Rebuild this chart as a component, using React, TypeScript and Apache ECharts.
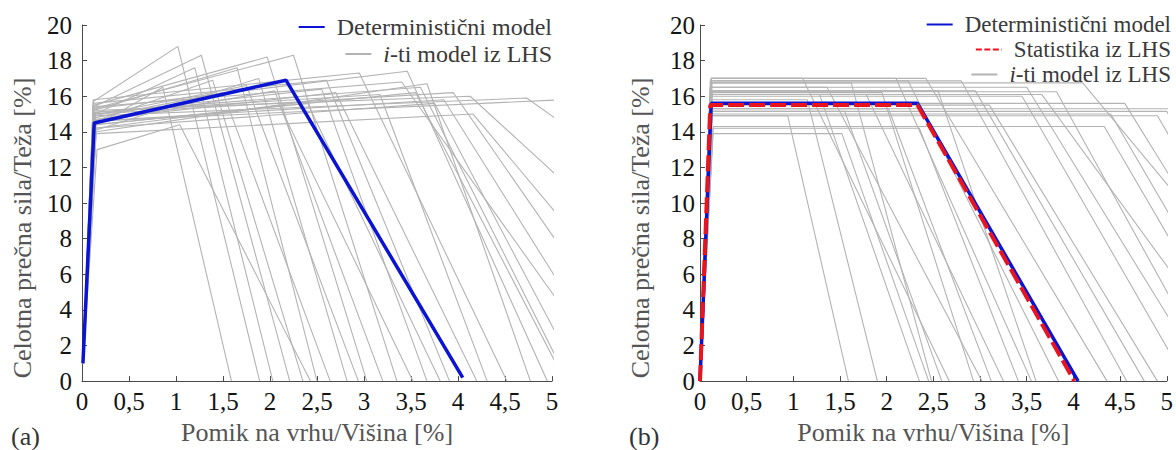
import React, { useEffect, useRef } from "react";
import * as echarts from "echarts";

// Pushover curves: displacement at top / height [%] vs. total base shear / weight [%]
const xTicks = { min: 0, max: 5, step: 0.5 };
const yTicks = { min: 0, max: 20, step: 2 };

const nameDet = "Deterministični model";
const nameStat = "Statistika iz LHS";
const nameSample = "i-ti model iz LHS";
const xTitle = "Pomik na vrhu/Višina [%]";
const yTitle = "Celotna prečna sila/Teža [%]";

// (a) deterministic trilinear curve
const detA: number[][] = [[0.01, 1.0], [0.13, 14.5], [2.17, 16.9], [4.05, 0.2]];

// (a) LHS sample curves
const samplesA: number[][][] = [
  [[0.01, 1], [0.13, 14.3], [0.86, 16.5], [1.59, 0]],
  [[0.01, 1], [0.12, 15.7], [1.02, 18.8], [1.89, 0]],
  [[0.01, 1], [0.14, 15.0], [1.2, 17.6], [2.03, 0]],
  [[0.01, 1], [0.12, 15.4], [1.27, 18.3], [2.21, 0]],
  [[0.01, 1], [0.13, 14.6], [1.39, 16.9], [2.35, 0]],
  [[0.01, 1], [0.16, 13.0], [1.04, 14.4], [2.43, 0]],
  [[0.01, 1], [0.12, 15.2], [1.65, 17.6], [2.5, 0]],
  [[0.01, 1], [0.14, 14.8], [1.5, 16.2], [2.64, 0]],
  [[0.01, 1], [0.15, 14.1], [1.88, 17.0], [2.82, 0]],
  [[0.01, 1], [0.13, 14.9], [1.75, 16.6], [2.94, 0]],
  [[0.01, 1], [0.13, 15.5], [1.97, 18.2], [3.03, 0]],
  [[0.01, 1], [0.12, 14.5], [2.05, 16.3], [3.2, 0]],
  [[0.01, 1], [0.12, 15.3], [2.25, 18.3], [3.35, 0]],
  [[0.01, 1], [0.14, 14.2], [2.1, 15.5], [3.52, 0]],
  [[0.01, 1], [0.13, 15.0], [2.55, 16.4], [3.67, 0]],
  [[0.01, 1], [0.15, 14.4], [2.4, 15.6], [3.81, 0]],
  [[0.01, 1], [0.12, 15.6], [2.6, 16.9], [3.91, 0]],
  [[0.01, 1], [0.14, 14.7], [2.7, 16.2], [4.2, 0]],
  [[0.01, 1], [0.13, 15.1], [3.17, 16.1], [4.31, 0]],
  [[0.01, 1], [0.12, 15.8], [2.95, 17.3], [4.52, 0]],
  [[0.01, 1], [0.15, 14.0], [3.67, 16.7], [4.77, 0]],
  [[0.01, 1], [0.13, 15.3], [3.46, 17.4], [4.95, 0]],
  [[0.01, 1], [0.12, 15.2], [4.13, 16.0], [7.44, 0]],
  [[0.01, 1], [0.14, 14.9], [4.73, 15.9], [9.0, 0]],
  [[0.01, 1], [0.15, 13.9], [4.16, 15.0], [6.54, 0]],
  [[0.01, 1], [0.12, 14.6], [5.3, 15.85], [7.0, 0]],
  [[0.01, 1], [0.13, 15.0], [3.95, 16.2], [6.08, 0]],
  [[0.01, 1], [0.14, 14.6], [3.85, 15.8], [5.73, 0]],
  [[0.01, 1], [0.12, 15.4], [3.4, 16.8], [5.67, 0]],
  [[0.01, 1], [0.13, 14.2], [3.75, 15.6], [5.31, 0]],
  [[0.01, 1], [0.14, 15.1], [3.6, 16.5], [5.17, 0]],
  [[0.01, 1], [0.12, 14.4], [3.55, 16.2], [5.14, 0]],
];

// (b) deterministic and LHS-statistics bilinear curves
const detB: number[][] = [[0, 0], [0.12, 15.6], [2.33, 15.6], [4.05, 0]];
const statB: number[][] = [[0, 0], [0.11, 15.5], [2.33, 15.5], [4.01, 0]];

// (b) LHS sample curves
const samplesB: number[][][] = [
  [[0, 0], [0.12, 17.0], [1.1, 17.0], [2.67, 0]],
  [[0, 0], [0.11, 16.5], [1.36, 16.5], [3.02, 0]],
  [[0, 0], [0.13, 14.9], [0.94, 14.9], [1.59, 0]],
  [[0, 0], [0.14, 13.9], [1.52, 13.9], [2.45, 0]],
  [[0, 0], [0.12, 16.1], [1.28, 16.1], [2.35, 0]],
  [[0, 0], [0.12, 15.8], [1.15, 15.8], [1.9, 0]],
  [[0, 0], [0.13, 16.1], [1.78, 16.1], [3.25, 0]],
  [[0, 0], [0.12, 17.0], [2.1, 17.0], [3.55, 0]],
  [[0, 0], [0.12, 17.0], [2.42, 17.0], [4.36, 0]],
  [[0, 0], [0.11, 16.86], [2.23, 16.86], [3.84, 0]],
  [[0, 0], [0.13, 16.3], [2.95, 16.3], [4.76, 0]],
  [[0, 0], [0.12, 16.1], [3.66, 16.1], [5.9, 0]],
  [[0, 0], [0.14, 14.3], [4.33, 14.3], [5.92, 0]],
  [[0, 0], [0.12, 14.9], [4.9, 14.9], [6.56, 0]],
  [[0, 0], [0.12, 15.3], [5.5, 15.3], [7.2, 0]],
  [[0, 0], [0.13, 15.15], [5.0, 15.15], [6.7, 0]],
  [[0, 0], [0.12, 16.25], [3.82, 16.25], [5.53, 0]],
  [[0, 0], [0.13, 15.6], [4.55, 15.6], [6.39, 0]],
  [[0, 0], [0.12, 16.75], [4.1, 16.75], [6.76, 0]],
  [[0, 0], [0.11, 16.5], [3.5, 16.5], [5.44, 0]],
  [[0, 0], [0.13, 15.0], [4.4, 15.0], [6.07, 0]],
  [[0, 0], [0.12, 16.0], [3.45, 16.0], [5.21, 0]],
  [[0, 0], [0.13, 16.75], [1.62, 16.75], [2.48, 0]],
  [[0, 0], [0.12, 15.15], [1.55, 15.15], [2.59, 0]],
  [[0, 0], [0.13, 16.2], [1.95, 16.2], [2.93, 0]],
  [[0, 0], [0.12, 15.3], [2.02, 15.3], [3.12, 0]],
  [[0, 0], [0.14, 14.2], [2.35, 14.2], [3.41, 0]],
  [[0, 0], [0.12, 16.3], [2.55, 16.3], [3.6, 0]],
  [[0, 0], [0.12, 16.86], [2.8, 16.86], [4.57, 0]],
  [[0, 0], [0.13, 15.5], [3.1, 15.5], [4.9, 0]],
];

const SERIF = "Liberation Serif";
const AXIS_COLOR = "#4a4a4a";
const GRAY = "#b3b3b3";
const BLUE = "#0a14d2";
const RED = "#e8141e";
const TITLE_COLOR = "#555555";
const LEGEND_COLOR = "#3a3a3a";

function makeXAxis(gridIndex: number) {
  return {
    type: "value",
    gridIndex,
    min: xTicks.min,
    max: xTicks.max,
    interval: xTicks.step,
    axisLine: { show: true, lineStyle: { color: AXIS_COLOR, width: 1 } },
    axisTick: { show: true, inside: true, length: 5, lineStyle: { color: AXIS_COLOR } },
    splitLine: { show: false },
    axisLabel: {
      fontFamily: SERIF,
      fontSize: 25,
      color: "#141414",
      margin: 8,
      formatter: (v: number) => String(v).replace(".", ","),
    },
    name: xTitle,
    nameLocation: "middle",
    nameGap: 33,
    nameTextStyle: { fontFamily: SERIF, fontSize: 26, color: TITLE_COLOR },
  };
}

function makeYAxis(gridIndex: number, labelMargin: number) {
  return {
    type: "value",
    gridIndex,
    min: yTicks.min,
    max: yTicks.max,
    interval: yTicks.step,
    axisLine: { show: true, lineStyle: { color: AXIS_COLOR, width: 1 } },
    axisTick: { show: true, inside: true, length: 5, lineStyle: { color: AXIS_COLOR } },
    splitLine: { show: false },
    axisLabel: { fontFamily: SERIF, fontSize: 25, color: "#141414", margin: labelMargin },
  };
}

function sampleSeries(data: number[][][], axis: number) {
  return data.map((pts) => ({
    type: "line",
    name: nameSample,
    xAxisIndex: axis,
    yAxisIndex: axis,
    data: pts,
    symbol: "none",
    showSymbol: false,
    silent: true,
    clip: true,
    z: 1,
    itemStyle: { color: GRAY },
    lineStyle: { color: GRAY, width: 1.1 },
  }));
}

function legendRow(name: string, right: number, top: number, size: number, extra: any = {}) {
  return {
    data: [name],
    right,
    top,
    orient: "horizontal",
    padding: 0,
    itemWidth: 26,
    itemHeight: 14,
    selectedMode: false,
    itemStyle: { opacity: 0 },
    formatter: (n: string) => (n === nameSample ? "{i|i}{t|-ti model iz LHS}" : n),
    textStyle: {
      fontFamily: SERIF,
      fontSize: size,
      lineHeight: size,
      color: LEGEND_COLOR,
      padding: [0, 0, 0, 7],
      rich: {
        i: { fontFamily: SERIF, fontSize: size, lineHeight: size, color: LEGEND_COLOR, fontStyle: "italic" },
        t: { fontFamily: SERIF, fontSize: size, lineHeight: size, color: LEGEND_COLOR },
      },
    },
    ...extra,
  };
}

function yTitleText(x: number, y: number) {
  return {
    type: "text",
    x,
    y,
    rotation: Math.PI / 2,
    style: {
      text: yTitle,
      fontFamily: SERIF,
      fontSize: 26,
      fill: TITLE_COLOR,
      align: "center",
      verticalAlign: "middle",
    },
  };
}

export default function App() {
  const ref = useRef<HTMLDivElement>(null);

  useEffect(() => {
    if (!ref.current) return;
    const chart = echarts.init(ref.current, undefined, { renderer: "svg" });

    const option: any = {
      animation: false,
      backgroundColor: "#ffffff",
      textStyle: { fontFamily: SERIF },
      grid: [
        { left: 82, top: 25, width: 470, height: 363 },
        { left: 700, top: 25, width: 469, height: 363 },
      ],
      xAxis: [makeXAxis(0), makeXAxis(1)],
      yAxis: [makeYAxis(0, 10), makeYAxis(1, 5)],
      legend: [
        legendRow(nameDet, 1176 - 552, 15, 24),
        legendRow(nameSample, 1176 - 552, 42, 24),
        legendRow(nameDet, 5, 13, 23),
        legendRow(nameStat, 5, 38, 23, { lineStyle: { type: [6, 2.5] } }),
        legendRow(nameSample, 5, 63, 23),
      ],
      series: [
        ...sampleSeries(samplesA, 0),
        {
          type: "line",
          name: nameDet,
          xAxisIndex: 0,
          yAxisIndex: 0,
          data: detA,
          symbol: "none",
          showSymbol: false,
          z: 3,
          itemStyle: { color: BLUE },
          lineStyle: { color: BLUE, width: 3.5 },
        },
        ...sampleSeries(samplesB, 1),
        {
          type: "line",
          name: nameDet,
          xAxisIndex: 1,
          yAxisIndex: 1,
          data: detB,
          symbol: "none",
          showSymbol: false,
          z: 3,
          itemStyle: { color: BLUE },
          lineStyle: { color: BLUE, width: 3.5 },
        },
        {
          type: "line",
          name: nameStat,
          xAxisIndex: 1,
          yAxisIndex: 1,
          data: statB,
          symbol: "none",
          showSymbol: false,
          z: 4,
          itemStyle: { color: RED },
          lineStyle: { color: RED, width: 4, type: [16, 5] },
        },
      ],
      graphic: [
        yTitleText(22, 228),
        yTitleText(640, 228),
        {
          type: "text",
          left: 11,
          top: 423,
          style: { text: "(a)", fontFamily: SERIF, fontSize: 26, fill: "#333333" },
        },
        {
          type: "text",
          left: 629,
          top: 423,
          style: { text: "(b)", fontFamily: SERIF, fontSize: 26, fill: "#333333" },
        },
      ],
    };

    chart.setOption(option);
    return () => chart.dispose();
  }, []);

  return (
    <div
      ref={ref}
      style={{ position: "absolute", left: 0, top: 0, width: 1176, height: 450, background: "#fff" }}
    />
  );
}
